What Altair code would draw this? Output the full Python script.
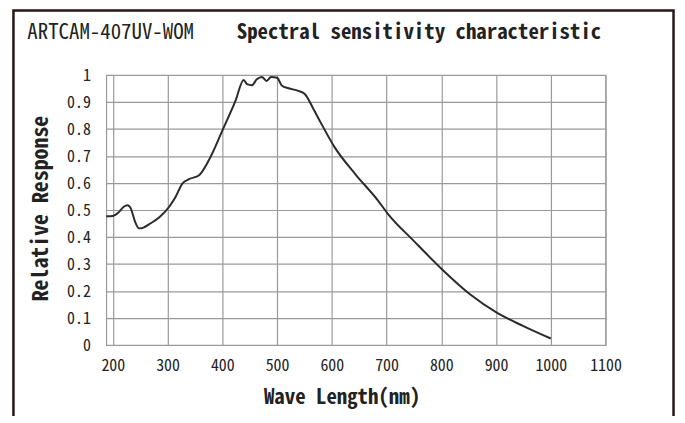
import altair as alt
import pandas as pd

# wavelength (nm) and relative response
wavelength = [188, 200, 210, 220, 227, 233, 240, 248, 256, 266, 285, 303, 315, 327,
              340, 357, 375, 400, 424, 439, 445, 454, 463, 472, 481, 489, 500, 509,
              521, 539, 551, 565, 581, 605, 642, 684, 702, 751, 802, 853, 902, 950, 1000]
response = [0.477, 0.478, 0.49, 0.512, 0.518, 0.505, 0.46, 0.432, 0.435, 0.447, 0.473,
            0.512, 0.55, 0.598, 0.615, 0.628, 0.683, 0.794, 0.904, 0.982, 0.966, 0.962,
            0.984, 0.993, 0.978, 0.993, 0.99, 0.96, 0.951, 0.941, 0.929, 0.88, 0.819,
            0.733, 0.635, 0.536, 0.487, 0.383, 0.279, 0.187, 0.119, 0.07, 0.024]

x_ticks = [200, 300, 400, 500, 600, 700, 800, 900, 1000, 1100]
y_ticks = [0, 0.1, 0.2, 0.3, 0.4, 0.5, 0.6, 0.7, 0.8, 0.9, 1]

model_label = "ARTCAM-407UV-WOM"
chart_title = "Spectral sensitivity characteristic"

FONT = "Noto Sans Mono CJK JP, DejaVu Sans Mono, monospace"
W, H = 503, 272

df = pd.DataFrame({"wl": wavelength, "resp": response})
one = alt.Data(values=[{"k": 1}])

line = alt.Chart(df).mark_line(color="#2b2b2b", strokeWidth=2, interpolate="monotone").encode(
    x=alt.X("wl:Q", scale=alt.Scale(domain=[188, 1100], nice=False, zero=False),
            axis=alt.Axis(values=x_ticks, format="d", title="Wave Length(nm)", grid=True,
                          ticks=False, domain=False, labelPadding=13, labelFontSize=16,
                          labelOverlap=False, labelFlush=False,
                          labelFont=FONT, labelColor="#222",
                          titleFont=FONT, titleFontSize=21, titleFontWeight="bold",
                          titleColor="#222", titleX=237, titleY=59,
                          titleBaseline="alphabetic")),
    y=alt.Y("resp:Q", scale=alt.Scale(domain=[0, 1], nice=False),
            axis=alt.Axis(values=y_ticks, format="~g", title="Relative Response", grid=True,
                          ticks=False, domain=False, labelPadding=16, labelFontSize=16,
                          labelOverlap=False, labelFlush=False,
                          labelFont=FONT, labelColor="#222", labelOffset=1,
                          titleFont=FONT, titleFontSize=22, titleFontWeight="bold",
                          titleColor="#222", titleX=-66, titleY=134, titleAngle=270,
                          titleBaseline="middle")),
)

frame = alt.Chart(one).mark_rect(filled=False, stroke="#231815", strokeWidth=2.5).encode(
    x=alt.value(-93.5), x2=alt.value(571.5), y=alt.value(-65), y2=alt.value(H + 90)
)

model = alt.Chart(one).mark_text(font=FONT, fontSize=21, color="#222", align="left",
                                  baseline="alphabetic").encode(
    x=alt.value(-79.5), y=alt.value(-36), text=alt.value(model_label)
)

heading = alt.Chart(one).mark_text(font=FONT, fontSize=21, fontWeight="bold", color="#222",
                                    align="left", baseline="alphabetic").encode(
    x=alt.value(131.5), y=alt.value(-36), text=alt.value(chart_title)
)

chart = alt.layer(frame, model, heading, line).properties(
    width=W, height=H,
    autosize=alt.AutoSizeParams(type="none"),
    padding={"left": 99, "top": 66, "right": 72, "bottom": 70},
    background="white",
).configure_view(stroke="#9a9a9a", strokeWidth=1.2).configure_axis(
    gridColor="#9a9a9a", gridWidth=1.2, gridOpacity=1
)

chart.save("out.html", embed_options={"renderer": "svg", "actions": False})
